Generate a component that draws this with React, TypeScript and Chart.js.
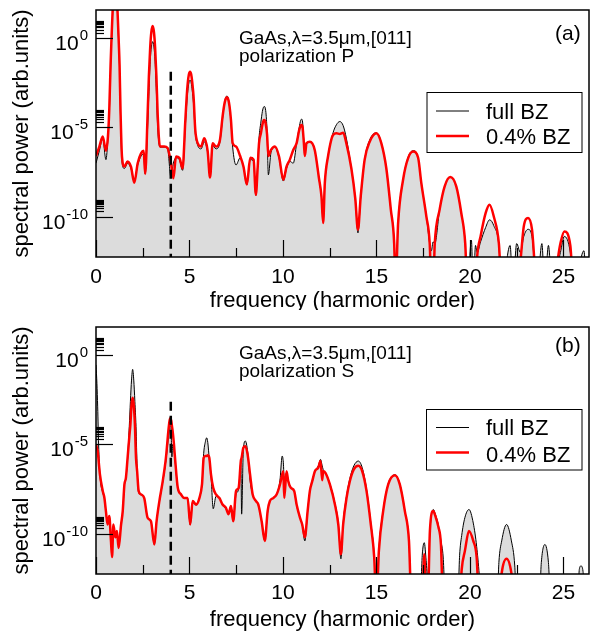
import React, { useEffect, useRef } from "react";
import { Chart, registerables } from "chart.js";

Chart.register(...registerables);

const FONT = '"Liberation Sans", Arial, Helvetica, sans-serif';

// ---------- axes ----------
const X_MIN = 0;
const X_MAX = 26.37;
const Y_MIN_EXP = -12.25;
const Y_MAX_EXP = 1.57;
const xMajorTicks = [0, 5, 10, 15, 20, 25];
const xMinorTicks = [2.5, 7.5, 12.5, 17.5, 22.5];
const xTickLabels = ["0", "5", "10", "15", "20", "25"];
const yMajorExps = [0, -5, -10];
const yTickExpLabels = ["0", "-5", "-10"];
const yMinorMultipliers = [2, 3, 4, 5, 6, 7, 8, 9];

const seriesNames = ["full BZ", "0.4% BZ"];
const xTitle = "frequency (harmonic order)";
const yTitle = "spectral power (arb.units)";
const materialText = "GaAs,\u03bb=3.5\u03bcm,[011]";
const polTextA = "polarization P";
const polTextB = "polarization S";

// ---------- panel (a): polarization P (values are log10 of spectral power) ----------
const hA = [
  0.0, 0.18, 0.36, 0.53, 0.64, 0.71, 0.78, 0.82, 0.9, 0.96,
  1.02, 1.08, 1.14, 1.22, 1.26, 1.31, 1.39, 1.52, 1.69, 1.87,
  2.05, 2.23, 2.41, 2.55, 2.63, 2.76, 2.83, 2.9, 2.96, 3.03,
  3.1, 3.16, 3.23, 3.3, 3.42, 3.65, 3.83, 4.01, 4.14, 4.28,
  4.46, 4.63, 4.78, 4.85, 4.91, 4.97, 5.03, 5.09, 5.15, 5.22,
  5.31, 5.44, 5.62, 5.79, 5.97, 6.1, 6.24, 6.42, 6.63, 6.77,
  6.85, 6.93, 7.0, 7.07, 7.14, 7.22, 7.31, 7.49, 7.71, 7.89,
  8.07, 8.25, 8.43, 8.55, 8.65, 8.72, 8.82, 8.9, 8.96, 9.0,
  9.05, 9.1, 9.15, 9.22, 9.36, 9.57, 9.79, 10.02, 10.19, 10.37,
  10.55, 10.73, 10.87, 10.95, 11.0, 11.05, 11.12, 11.17, 11.26, 11.44,
  11.7, 11.92, 12.06, 12.15, 12.24, 12.41, 12.68, 12.86, 13.04, 13.22,
  13.39, 13.66, 13.87, 14.01, 14.16, 14.37, 14.64, 15.0, 15.26, 15.53,
  15.77, 15.95, 16.02, 16.16, 16.43, 16.7, 16.97, 17.23, 17.4, 17.67,
  17.85, 17.94, 18.03, 18.12, 18.38, 18.65, 18.95, 19.27, 19.54, 19.75,
  19.86, 20.08, 20.18, 20.3, 20.39, 20.57, 20.84, 21.05, 21.28, 21.55,
  21.7, 22.15, 22.3, 22.5, 22.7, 22.88, 23.11, 23.32, 23.59, 23.85,
  24.0, 24.2, 24.4, 24.84, 25.05, 25.37, 25.55, 26.1, 26.25, 26.4,
];
const fullA = [
  -7.0, -6.3, -5.6, -6.8, -5.6, -4.3, -1.7, -0.5, 1.6, 2.5,
  2.8, 2.5, 1.6, -0.5, -1.7, -4.3, -6.9, -7.3, -7.0, -7.3,
  -8.0, -7.1, -6.6, -6.5, -7.6, -5.0, -3.0, -1.3, -0.5, -0.2,
  -0.5, -1.3, -3.0, -5.0, -6.1, -6.1, -6.2, -7.8, -7.0, -6.7,
  -6.8, -7.4, -4.9, -3.7, -2.95, -2.5, -2.35, -2.5, -2.95, -3.7,
  -5.3, -6.0, -6.2, -5.8, -6.4, -7.6, -6.0, -6.2, -5.8, -4.5,
  -3.8, -3.35, -3.25, -3.35, -3.8, -4.7, -6.1, -7.1, -6.7, -7.2,
  -8.2, -6.8, -6.9, -8.8, -7.0, -5.6, -4.7, -4.1, -3.87, -3.83,
  -3.9, -4.3, -5.2, -7.65, -6.4, -6.1, -6.7, -8.0, -7.3, -6.9,
  -7.0, -5.9, -5.0, -4.6, -4.54, -4.7, -5.8, -6.0, -5.9, -5.8,
  -6.3, -7.8, -8.9, -10.2, -8.1, -6.6, -5.3, -4.85, -4.67, -4.9,
  -5.6, -7.3, -9.0, -10.9, -8.9, -6.8, -5.7, -5.3, -5.85, -7.3,
  -9.6, -11.5, -14, -10.35, -7.9, -6.65, -6.3, -6.7, -8.1, -9.95,
  -11.5, -11.9, -11.4, -11.5, -9.6, -8.3, -7.78, -8.3, -9.8, -11.5,
  -14, -11.3, -14, -11.6, -12.0, -11.4, -10.6, -10.17, -10.5, -11.6,
  -14, -11.6, -14, -11.5, -12.0, -11.1, -10.7, -11.1, -14, -11.5,
  -14, -11.6, -14, -12.0, -11.1, -12.0, -14, -11.9, -14, -14,
];
const partA = [
  -6.6, -6.07, -5.51, -6.3, -5.5, -4.0, -1.5, -0.3, 1.8, 2.65,
  2.94, 2.65, 1.8, -0.3, -1.5, -4.0, -6.63, -7.19, -6.9, -7.2,
  -8.1, -7.0, -6.45, -6.3, -7.6, -4.3, -2.1, -0.5, 0.33, 0.67,
  0.33, -0.5, -2.1, -4.3, -6.07, -6.07, -6.15, -7.0, -7.84, -6.63,
  -6.7, -7.3, -4.58, -3.3, -2.5, -2.03, -1.88, -2.03, -2.5, -3.3,
  -5.14, -5.88, -6.07, -5.6, -6.3, -7.8, -5.88, -6.07, -5.7, -4.4,
  -3.8, -3.42, -3.31, -3.42, -3.8, -4.6, -5.88, -6.07, -6.6, -7.2,
  -8.2, -6.7, -6.8, -8.77, -7.2, -5.88, -5.33, -4.85, -4.62, -4.58,
  -4.65, -4.95, -5.4, -6.6, -6.26, -6.07, -6.63, -7.93, -7.2, -6.8,
  -6.26, -5.88, -5.14, -4.9, -4.86, -5.0, -5.88, -6.6, -5.88, -5.8,
  -6.26, -7.8, -8.86, -10.35, -8.1, -6.63, -5.42, -5.33, -5.37, -5.3,
  -5.88, -7.3, -9.0, -10.73, -8.86, -6.8, -5.8, -5.33, -5.88, -7.3,
  -9.6, -11.5, -14, -10.35, -7.9, -6.7, -6.35, -6.7, -8.1, -9.98,
  -11.5, -14, -14, -11.5, -9.6, -8.3, -7.78, -8.3, -9.8, -11.5,
  -14, -14, -14, -14, -12.2, -11.1, -9.8, -9.33, -10.0, -11.5,
  -14, -14, -14, -14, -12.5, -10.55, -10.07, -10.7, -14, -14,
  -14, -14, -14, -11.5, -10.82, -11.6, -14, -14, -14, -14,
];
const cutoffXA = 4;
const cutoffTopA = -1.88;

// ---------- panel (b): polarization S ----------
const hB = [
  0.0, 0.05, 0.09, 0.14, 0.21, 0.36, 0.45, 0.53, 0.62, 0.71,
  0.8, 0.86, 0.93, 1.03, 1.12, 1.21, 1.34, 1.43, 1.52, 1.6,
  1.69, 1.78, 1.84, 1.9, 1.96, 2.02, 2.08, 2.14, 2.2, 2.28,
  2.41, 2.58, 2.76, 2.94, 3.12, 3.24, 3.39, 3.57, 3.74, 3.87,
  3.93, 3.97, 4.02, 4.06, 4.1, 4.17, 4.24, 4.37, 4.55, 4.72,
  4.9, 5.04, 5.17, 5.35, 5.53, 5.67, 5.76, 5.85, 5.92, 5.98,
  6.06, 6.15, 6.27, 6.42, 6.6, 6.77, 6.95, 7.09, 7.22, 7.34,
  7.49, 7.63, 7.75, 7.79, 7.88, 7.99, 8.11, 8.24, 8.38, 8.56,
  8.68, 8.86, 9.03, 9.18, 9.3, 9.48, 9.66, 9.84, 9.96, 10.02,
  10.07, 10.19, 10.28, 10.42, 10.6, 10.73, 10.91, 11.03, 11.17, 11.32,
  11.44, 11.57, 11.71, 11.89, 12.01, 12.1, 12.15, 12.28, 12.51, 12.78,
  12.96, 13.1, 13.22, 13.4, 13.58, 13.79, 14.03, 14.24, 14.47, 14.7,
  14.88, 15.0, 15.13, 15.36, 15.63, 15.99, 16.25, 16.52, 16.74, 16.88,
  17.33, 17.45, 17.56, 17.66, 17.74, 17.86, 18.04, 18.15, 18.31, 18.45,
  18.57, 18.7, 19.34, 19.45, 19.56, 19.73, 19.95, 20.18, 20.36, 20.5,
  20.6, 21.45, 21.55, 21.7, 21.96, 22.22, 22.4, 22.5, 23.7, 23.82,
  24.01, 24.2, 24.33, 25.76, 25.85, 25.94, 26.05, 26.15, 26.4,
];
const fullB = [
  -0.55, -1.6, -2.9, -5.0, -6.7, -7.7, -8.0, -8.8, -9.4, -9.0,
  -10.4, -11.0, -9.6, -10.0, -9.9, -10.6, -9.5, -8.7, -7.3, -6.9,
  -5.8, -4.0, -2.6, -1.4, -0.8, -1.4, -2.6, -4.0, -6.3, -7.7,
  -7.8, -8.0, -9.1, -9.3, -10.6, -9.3, -8.2, -7.1, -5.9, -4.6,
  -3.9, -3.7, -4.3, -5.7, -5.0, -5.3, -6.0, -7.4, -7.8, -8.0,
  -8.0, -9.5, -8.2, -8.4, -8.0, -7.2, -5.5, -4.85, -4.63, -4.9,
  -5.8, -6.7, -8.6, -7.9, -8.0, -8.4, -8.6, -8.9, -8.5, -9.3,
  -7.8, -7.5, -6.0, -8.9, -5.3, -4.81, -5.4, -7.0, -7.8, -8.2,
  -8.4, -9.3, -10.4, -8.8, -8.2, -8.0, -7.8, -7.0, -5.65, -6.0,
  -7.0, -6.6, -7.0, -7.4, -7.6, -8.4, -9.1, -9.5, -10.4, -8.7,
  -7.6, -7.0, -6.5, -6.2, -5.84, -6.2, -6.4, -6.6, -7.2, -8.3,
  -9.4, -11.4, -9.4, -7.9, -6.9, -6.2, -5.93, -6.3, -7.5, -9.4,
  -11.2, -14, -10.9, -8.7, -7.2, -6.7, -7.2, -8.7, -10.4, -14,
  -14, -11.2, -10.5, -11.5, -12.5, -9.85, -8.64, -8.9, -9.5, -10.4,
  -11.3, -14, -14, -11.2, -10.1, -9.1, -8.64, -9.4, -10.7, -12.3,
  -14, -14, -11.6, -10.4, -9.48, -10.4, -11.8, -14, -14, -11.6,
  -10.6, -11.6, -14, -14, -12.0, -11.8, -12.1, -14, -14,
];
const partB = [
  -5.0, -5.2, -5.37, -5.9, -6.68, -7.6, -8.0, -8.73, -9.48, -9.0,
  -10.4, -11.3, -9.48, -10.2, -9.85, -10.8, -9.5, -8.73, -7.24, -6.87,
  -5.75, -4.6, -3.88, -2.8, -2.39, -2.8, -3.88, -5.75, -6.5, -7.6,
  -7.8, -8.0, -9.1, -9.3, -10.6, -9.3, -8.17, -7.05, -5.75, -4.25,
  -3.7, -3.54, -3.65, -3.95, -4.25, -5.0, -5.93, -7.4, -7.8, -8.0,
  -8.0, -9.48, -8.17, -8.36, -8.0, -7.24, -5.75, -5.65, -5.65, -5.6,
  -5.75, -6.68, -7.43, -7.8, -8.0, -8.36, -8.55, -8.9, -8.45, -9.3,
  -7.6, -7.43, -5.9, -5.75, -5.19, -5.1, -5.56, -6.68, -7.8, -8.17,
  -8.36, -9.3, -10.4, -8.73, -8.17, -8.0, -7.8, -7.24, -6.68, -6.5,
  -8.0, -6.5, -7.05, -7.43, -7.6, -8.36, -9.1, -9.48, -10.2, -8.73,
  -7.6, -7.05, -6.5, -6.3, -5.93, -7.0, -6.5, -6.6, -7.24, -8.36,
  -9.48, -11.15, -9.48, -8.0, -7.05, -6.4, -6.2, -6.5, -7.6, -9.48,
  -11.3, -14, -10.97, -8.73, -7.24, -6.72, -7.24, -8.73, -10.4, -14,
  -14, -14, -11.15, -14, -14, -9.85, -8.73, -9.0, -9.6, -10.6,
  -14, -14, -14, -14, -12.0, -10.97, -9.85, -10.4, -11.3, -14,
  -14, -14, -14, -12.2, -11.4, -12.2, -14, -14, -14, -14,
  -14, -14, -14, -14, -14, -14, -14, -14, -14,
];
const cutoffXB = 4;
const cutoffTopB = -2.61;
const BELOW_AXIS = -14;

type PanelCfg = {
  h: number[];
  full: number[];
  part: number[];
  cutX: number;
  cutTop: number;
  height: number;
  padTop: number;
  xAxisH: number;
  letter: string;
  pol: string;
  textBase: [number, number];
  letterBase: number;
  legendBox: [number, number, number, number];
  legendLineY: [number, number];
  legendTextBase: [number, number];
  xLabelBase: number;
  xTitleBase: number;
};

const panelA: PanelCfg = {
  h: hA, full: fullA, part: partA, cutX: cutoffXA, cutTop: cutoffTopA,
  height: 310, padTop: 10, xAxisH: 53,
  letter: "(a)", pol: polTextA, textBase: [43.5, 62], letterBase: 40,
  legendBox: [427, 92.5, 155, 60], legendLineY: [111, 136], legendTextBase: [118.5, 143.5],
  xLabelBase: 283, xTitleBase: 307,
};
const panelB: PanelCfg = {
  h: hB, full: fullB, part: partB, cutX: cutoffXB, cutTop: cutoffTopB,
  height: 326, padTop: 17, xAxisH: 62,
  letter: "(b)", pol: polTextB, textBase: [48.5, 67], letterBase: 42,
  legendBox: [426.5, 99.5, 155.5, 60.5], legendLineY: [117.5, 142.5], legendTextBase: [125, 151.5],
  xLabelBase: 289, xTitleBase: 316,
};

function decorPlugin(cfg: PanelCfg) {
  return {
    id: "decor",
    afterDraw(chart: any) {
      const { ctx, chartArea: ca, scales } = chart;
      const xs = scales.x;
      const ys = scales.y;
      const line = (x1: number, y1: number, x2: number, y2: number) => {
        ctx.beginPath();
        ctx.moveTo(x1, y1);
        ctx.lineTo(x2, y2);
        ctx.stroke();
      };
      ctx.save();
      ctx.strokeStyle = "#000";
      ctx.fillStyle = "#000";
      ctx.lineWidth = 1.2;
      xMajorTicks.forEach((v) => {
        const px = Math.round(xs.getPixelForValue(v)) + 0.5;
        line(px, ca.bottom, px, ca.bottom - 17);
      });
      xMinorTicks.forEach((v) => {
        const px = Math.round(xs.getPixelForValue(v)) + 0.5;
        line(px, ca.bottom, px, ca.bottom - 9);
      });
      yMajorExps.forEach((e) => {
        const py = Math.round(ys.getPixelForValue(Math.pow(10, e))) + 0.5;
        line(ca.left, py, ca.left + 17, py);
        yMinorMultipliers.forEach((m) => {
          const v = m * Math.pow(10, e);
          if (Math.log10(v) > Y_MAX_EXP) return;
          const p = Math.round(ys.getPixelForValue(v)) + 0.5;
          line(ca.left, p, ca.left + 8, p);
        });
      });
      ctx.lineWidth = 1.5;
      ctx.strokeRect(ca.left, ca.top, ca.right - ca.left, ca.bottom - ca.top);
      ctx.font = `21px ${FONT}`;
      ctx.textAlign = "center";
      ctx.textBaseline = "alphabetic";
      xMajorTicks.forEach((v, i) => {
        ctx.fillText(xTickLabels[i], xs.getPixelForValue(v), cfg.xLabelBase);
      });
      yMajorExps.forEach((e, i) => {
        const py = ys.getPixelForValue(Math.pow(10, e));
        const right = 88;
        ctx.textAlign = "right";
        ctx.font = `15px ${FONT}`;
        const ew = ctx.measureText(yTickExpLabels[i]).width;
        ctx.fillText(yTickExpLabels[i], right, py + 2);
        ctx.font = `21px ${FONT}`;
        ctx.fillText("10", right - ew - 1, py + 12);
      });
      ctx.font = `22px ${FONT}`;
      ctx.textAlign = "center";
      ctx.fillText(xTitle, (ca.left + ca.right) / 2, cfg.xTitleBase);
      ctx.save();
      ctx.translate(28, (ca.top + ca.bottom) / 2);
      ctx.rotate(-Math.PI / 2);
      ctx.fillText(yTitle, 0, 0);
      ctx.restore();
      ctx.textAlign = "left";
      ctx.font = `19px ${FONT}`;
      ctx.fillText(materialText, 239, cfg.textBase[0]);
      ctx.fillText(cfg.pol, 239, cfg.textBase[1]);
      ctx.font = `21px ${FONT}`;
      ctx.fillText(cfg.letter, 555, cfg.letterBase);
      const [bx, by, bw, bh] = cfg.legendBox;
      ctx.fillStyle = "#fff";
      ctx.fillRect(bx, by, bw, bh);
      ctx.lineWidth = 1;
      ctx.strokeStyle = "#000";
      ctx.strokeRect(bx, by, bw, bh);
      line(436, cfg.legendLineY[0], 469, cfg.legendLineY[0]);
      ctx.strokeStyle = "#ff0000";
      ctx.lineWidth = 2.5;
      line(436, cfg.legendLineY[1], 469, cfg.legendLineY[1]);
      ctx.fillStyle = "#000";
      ctx.font = `22px ${FONT}`;
      ctx.fillText(seriesNames[0], 486, cfg.legendTextBase[0]);
      ctx.fillText(seriesNames[1], 486, cfg.legendTextBase[1]);
      ctx.restore();
    },
  };
}

function toPoints(h: number[], exps: number[]) {
  return h.map((x, i) => ({ x, y: Math.pow(10, exps[i]) }));
}

function Panel({ cfg }: { cfg: PanelCfg }) {
  const ref = useRef<HTMLCanvasElement | null>(null);
  useEffect(() => {
    if (!ref.current) return;
    const chart = new Chart(ref.current, {
      type: "line",
      data: {
        datasets: [
          {
            label: "cutoff",
            data: [
              { x: cfg.cutX, y: Math.pow(10, cfg.cutTop) },
              { x: cfg.cutX, y: Math.pow(10, BELOW_AXIS) },
            ],
            borderColor: "#000",
            borderWidth: 2.5,
            borderDash: [9, 5],
            pointRadius: 0,
            fill: false,
            order: 0,
          },
          {
            label: seriesNames[1],
            data: toPoints(cfg.h, cfg.part),
            borderColor: "#ff0000",
            borderWidth: 2.5,
            pointRadius: 0,
            fill: false,
            cubicInterpolationMode: "monotone",
            order: 1,
          },
          {
            label: seriesNames[0],
            data: toPoints(cfg.h, cfg.full),
            borderColor: "#000",
            borderWidth: 1,
            backgroundColor: "#dcdcdc",
            fill: "start",
            pointRadius: 0,
            cubicInterpolationMode: "monotone",
            order: 2,
          },
        ],
      } as any,
      options: {
        responsive: false,
        animation: false,
        devicePixelRatio: 1,
        layout: { padding: { top: cfg.padTop, right: 1, left: 0, bottom: 0 } },
        plugins: { legend: { display: false }, tooltip: { enabled: false } },
        scales: {
          x: {
            type: "linear",
            min: X_MIN,
            max: X_MAX,
            grid: { display: false },
            border: { display: false },
            ticks: { display: false },
            afterFit: (s: any) => {
              s.height = cfg.xAxisH;
            },
          },
          y: {
            type: "logarithmic",
            min: Math.pow(10, Y_MIN_EXP),
            max: Math.pow(10, Y_MAX_EXP),
            grid: { display: false },
            border: { display: false },
            ticks: { display: false },
            afterFit: (s: any) => {
              s.width = 96;
            },
          },
        },
      } as any,
      plugins: [decorPlugin(cfg)],
    });
    return () => chart.destroy();
  }, [cfg]);
  return <canvas ref={ref} width={590} height={cfg.height} style={{ display: "block" }} />;
}

export default function App() {
  return (
    <div style={{ position: "fixed", left: 0, top: 0, width: 590, height: 636, background: "#fff" }}>
      <Panel cfg={panelA} />
      <Panel cfg={panelB} />
    </div>
  );
}
